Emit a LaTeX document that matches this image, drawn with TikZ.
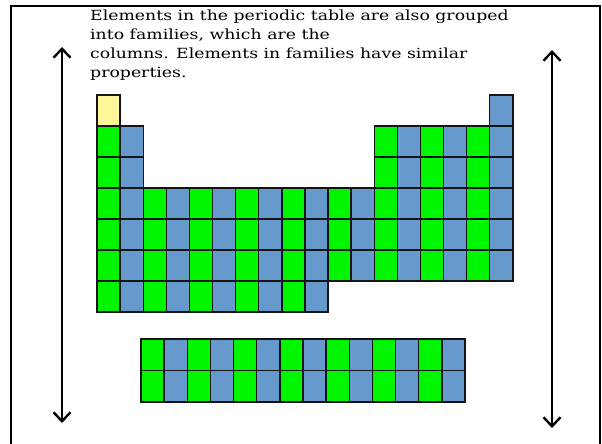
\documentclass[tikz,border=0pt]{standalone}
\usepackage{fontspec}
\setmainfont{DejaVu Serif}
\newfontfamily\notefont{DejaVu Serif}[FakeStretch=1.235]
\usetikzlibrary{arrows.meta}
\definecolor{grncol}{RGB}{0, 245, 0}
\definecolor{blucol}{RGB}{102, 153, 204}
\definecolor{hydcol}{RGB}{255, 247, 153}
\definecolor{linecol}{RGB}{20, 20, 20}
\tikzset{
  cell/.style  = {draw=linecol, line width=1.4pt, minimum width=23.1pt,
                  minimum height=31pt, inner sep=0pt, outer sep=0pt},
  grn/.style   = {cell, fill=grncol},
  blu/.style   = {cell, fill=blucol},
  hyd/.style   = {cell, fill=hydcol},
  % the two long arrows at the sides
  span/.style  = {{Straight Barb[length=9pt, width=17pt]}-{Straight Barb[length=9pt, width=17pt]},
                  draw=black, line width=2.4pt},
  frame/.style = {draw=black, line width=2.2pt},
  note/.style  = {font=\notefont\fontsize{14}{19}\selectfont, align=left,
                  inner sep=0pt, anchor=north west},
}

\begin{document}
\begin{tikzpicture}[x=1pt, y=-1pt]
  \useasboundingbox (0,0) rectangle (602,444);

  %% ---------------- frame and text ----------------
  \draw[frame] (11,460) |- (600,6) -- (600,460);
  \node[note] (blurb) at (90,10)
       {Elements in the periodic table are also grouped\\
        into families, which are the\\
        columns. Elements in families have similar\\
        properties.};

  %% ---------------- main table ----------------
  \node[hyd] (e1-1) at ({97+0.5*23.1},{95+0.5*31}) {};
  \foreach \r/\cols in {1/{18},
                        2/{1,2,13,14,15,16,17,18},
                        3/{1,2,13,14,15,16,17,18},
                        4/{1,...,18},
                        5/{1,...,18},
                        6/{1,...,18},
                        7/{1,...,10}}
    \foreach \c in \cols {
      \ifodd\c \def\kind{grn}\else\def\kind{blu}\fi
      \node[\kind] (e\r-\c) at ({97+(\c-0.5)*23.1},{95+(\r-0.5)*31}) {};
    }

  %% ---------------- the two rows below ----------------
  \foreach \r in {1,2}
    \foreach \c in {1,...,14} {
      \ifodd\c \def\kind{grn}\else\def\kind{blu}\fi
      \node[\kind, minimum width=23.14pt, minimum height=31.5pt] (f\r-\c)
           at ({141+(\c-0.5)*23.14},{339+(\r-0.5)*31.5}) {};
    }

  %% ---------------- arrows ----------------
  \coordinate (ltop) at (62,47);
  \coordinate (lbot) at (62,423);
  \coordinate (rtop) at (552,50);
  \coordinate (rbot) at (552,428);
  \draw[span] (ltop) -- (lbot);
  \draw[span] (rtop) -- (rbot);
\end{tikzpicture}
\end{document}
